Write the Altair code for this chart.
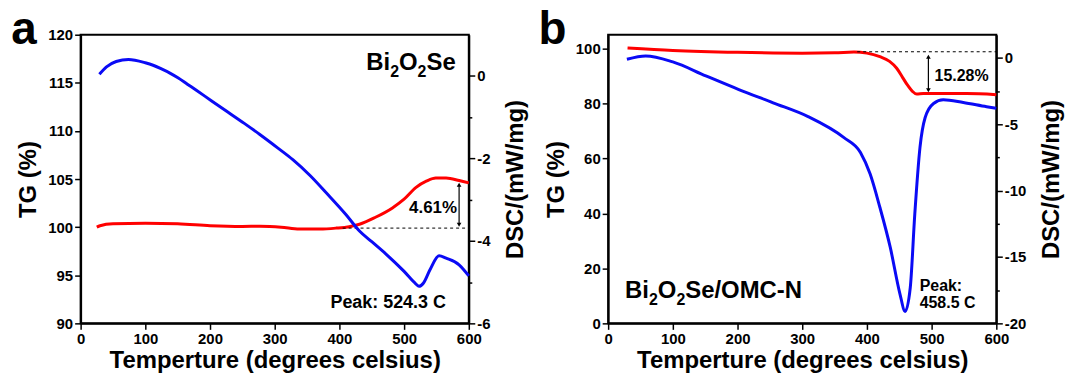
import altair as alt
import pandas as pd

FONT = "Liberation Sans"
RED = "#FF0000"
BLUE = "#0A0AF5"

# ---------------- Panel a : Bi2O2Se ----------------
a_tg_t = [25, 30, 50, 100, 150, 200, 250, 277, 310, 338, 370, 395, 415, 431, 455,
          482, 500, 518, 535, 549, 565, 585, 600]
a_tg_v = [100.0, 100.15, 100.35, 100.4, 100.35, 100.15, 100.07, 100.1, 100.0, 99.8,
          99.8, 99.9, 100.05, 100.3, 101.0, 102.0, 102.9, 104.1, 104.8, 105.1, 105.1,
          104.85, 104.6]
a_dsc_t = [29, 40, 55, 74, 100, 112, 125, 138, 151, 165, 180, 202, 228, 253, 277, 305,
           328, 355, 380, 410, 431, 450, 472, 500, 518, 523, 530, 540, 554, 565, 585, 600]
a_dsc_v = [0.04, 0.22, 0.35, 0.40, 0.32, 0.26, 0.17, 0.07, -0.05, -0.2, -0.36, -0.6,
           -0.88, -1.15, -1.42, -1.75, -2.03, -2.42, -2.84, -3.36, -3.76, -4.02, -4.32,
           -4.74, -5.04, -5.1, -5.02, -4.7, -4.36, -4.42, -4.58, -4.85]
a_dash_t = [405, 600]
a_dash_v = 99.9
a_arrow_t = 585
a_arrow_v = [104.4, 100.25]

# ---------------- Panel b : Bi2O2Se/OMC-N ----------------
b_tg_t = [30, 100, 200, 300, 350, 380, 400, 420, 435, 446, 455, 462, 470, 477, 487,
          554, 600]
b_tg_v = [100.2, 99.3, 98.6, 98.3, 98.4, 98.7, 98.3, 97.0, 95.3, 92.8, 89.5, 86.9,
          84.5, 83.4, 83.6, 83.6, 83.2]
b_dsc_t = [29, 58, 100, 151, 202, 255, 309, 364, 390, 405, 420, 436, 451, 459,
           467, 474, 482, 490, 503, 518, 549, 585, 600]
b_dsc_v = [-0.1, 0.15, -0.3, -1.35, -2.38, -3.38, -4.42, -5.99, -7.12, -8.75,
           -11.25, -14.26, -17.77, -19.1, -17.3, -11.75, -6.74, -4.49, -3.43, -3.15,
           -3.36, -3.68, -3.8]
b_dash_t = [385, 600]
b_dash_v = 98.8
b_arrow_t = 495
b_arrow_v = [97.0, 84.8]

x_ticks = list(range(0, 601, 50))

# advance widths (per 1000 em) of the bold sans used for hand-set subscripts
ADV = {"B": 722, "i": 278, "O": 778, "S": 667, "e": 556, "/": 278, "M": 833,
       "C": 722, "-": 333, "N": 722, "2": 556}


def formula(parts, x0, y0, size=24, sub=16, drop=7):
    """Place a chemical formula with subscripts as a row of text pieces."""
    out = []
    x = x0
    for s, is_sub in parts:
        fs = sub if is_sub else size
        out.append((s, x, y0 + (drop if is_sub else 0), fs, "left", "alphabetic"))
        x += sum(ADV[c] for c in s) * fs / 1000.0
    return out


def x_axis():
    return alt.Axis(values=x_ticks, title="Temperture (degrees celsius)",
                    labelExpr="datum.value % 100 == 0 ? datum.label : ''",
                    tickSize={"condition": {"test": "datum.value % 100 == 0", "value": 6}, "value": 3},
                    labelFlush=False, labelOverlap=False, titlePadding=2, labelPadding=2)


def panel(tg_t, tg_v, dsc_t, dsc_v, tg_dom, tg_vals, tg_lab, dsc_dom, dsc_vals, dsc_lab,
          dash_t, dash_v, arrow_t, arrow_v, texts, width, anchor=False):
    xs = alt.X("T:Q", scale=alt.Scale(domain=[0, 600], nice=False), axis=x_axis())
    tg_scale = alt.Scale(domain=tg_dom, nice=False, zero=False)
    dsc_scale = alt.Scale(domain=dsc_dom, nice=False, zero=False)
    tg_axis = alt.Axis(values=tg_vals, title="TG (%)", orient="left",
                       labelExpr=f"datum.value % {tg_lab} == 0 ? toString(datum.value) : ''",
                       tickSize={"condition": {"test": f"datum.value % {tg_lab} == 0", "value": 6}, "value": 3},
                       labelOverlap=False, titlePadding=7)
    dsc_axis = alt.Axis(values=dsc_vals, title="DSC/(mW/mg)", orient="right",
                        labelExpr=f"datum.value % {dsc_lab} == 0 ? toString(datum.value) : ''",
                        tickSize={"condition": {"test": f"datum.value % {dsc_lab} == 0", "value": 6}, "value": 3},
                        labelOverlap=False, titleAngle=270, titleBaseline="top", titlePadding=14)

    tg_df = pd.DataFrame({"T": tg_t, "v": tg_v})
    dsc_df = pd.DataFrame({"T": dsc_t, "v": dsc_v})
    red = alt.Chart(tg_df).mark_line(color=RED, strokeWidth=3, interpolate="monotone").encode(
        x=xs, y=alt.Y("v:Q", scale=tg_scale, axis=tg_axis))
    dash_df = pd.DataFrame({"T": [dash_t[0]], "T2": [dash_t[1]], "v": [dash_v]})
    dash = alt.Chart(dash_df).mark_rule(color="black", strokeWidth=1, strokeDash=[3, 3]).encode(
        x="T:Q", x2="T2:Q", y="v:Q")
    arr_df = pd.DataFrame({"T": [arrow_t], "v": [arrow_v[0]], "v2": [arrow_v[1]]})
    arrow = alt.Chart(arr_df).mark_rule(color="black", strokeWidth=1.2).encode(
        x="T:Q", y="v:Q", y2="v2:Q")
    head_df = pd.DataFrame({"T": [arrow_t, arrow_t], "v": arrow_v,
                            "s": ["triangle-up", "triangle-down"]})
    heads = alt.Chart(head_df).mark_point(filled=True, color="black", size=22, opacity=1).encode(
        x="T:Q", y="v:Q", shape=alt.Shape("s:N", scale=None))
    tg_layer = alt.layer(red, dash, arrow, heads)

    blue = alt.Chart(dsc_df).mark_line(color=BLUE, strokeWidth=3, interpolate="monotone").encode(
        x=xs, y=alt.Y("v:Q", scale=dsc_scale, axis=dsc_axis))

    extra = []
    for (s, x, y, size, align, baseline) in texts:
        extra.append(
            alt.Chart(pd.DataFrame({"t": [s]})).mark_text(
                font=FONT, fontWeight="bold", fontSize=size, align=align, baseline=baseline,
                color="black").encode(text="t:N", x=alt.value(x), y=alt.value(y)))
    if anchor:
        # invisible rule fixing the top-left corner of the picture
        extra.append(alt.Chart(pd.DataFrame({"k": [0]})).mark_rule(
            opacity=0, strokeWidth=0.01).encode(
            x=alt.value(-80), x2=alt.value(-80), y=alt.value(-33), y2=alt.value(340)))

    return alt.layer(tg_layer, blue, *extra).resolve_scale(y="independent").properties(
        width=width, height=290)


pa = panel(a_tg_t, a_tg_v, a_dsc_t, a_dsc_v,
           [90, 120], [90 + 2.5 * i for i in range(13)], 5,
           [-6, 1], list(range(-6, 1)), 2,
           a_dash_t, a_dash_v, a_arrow_t, a_arrow_v,
           [("a", -57, 9, 46, "center", "alphabetic"),
            ("4.61%", 330, 174, 17, "left", "middle"),
            ("Peak: 524.3 C", 251, 275, 18, "left", "alphabetic")]
           + formula([("Bi", False), ("2", True), ("O", False), ("2", True), ("Se", False)],
                     287, 35),
           390, anchor=True)

pb = panel(b_tg_t, b_tg_v, b_dsc_t, b_dsc_v,
           [0, 105], list(range(0, 101, 10)), 20,
           [-20, 1.75], [-20 + 2.5 * i for i in range(9)], 5,
           b_dash_t, b_dash_v, b_arrow_t, b_arrow_v,
           [("b", -56, 9, 46, "center", "alphabetic"),
            ("15.28%", 328, 41, 16, "left", "middle"),
            ("Peak:", 313, 257, 16, "left", "alphabetic"),
            ("458.5 C", 313, 275, 16, "left", "alphabetic")]
           + formula([("Bi", False), ("2", True), ("O", False), ("2", True),
                      ("Se/OMC-N", False)], 17, 265),
           390)

chart = alt.hconcat(pa, pb, spacing=140, bounds="flush").properties(
    padding=0,
    autosize=alt.AutoSizeParams(type="pad"),
    background="white",
).configure_axis(
    labelFont=FONT, labelFontWeight="bold", labelFontSize=15, labelColor="black",
    titleFont=FONT, titleFontWeight="bold", titleFontSize=24, titleColor="black",
    tickColor="black", tickWidth=1.5, domainColor="black", domainWidth=2, grid=False,
).configure_view(stroke="black", strokeWidth=2)

chart.save("out.html", embed_options={"renderer": "svg", "actions": False})
